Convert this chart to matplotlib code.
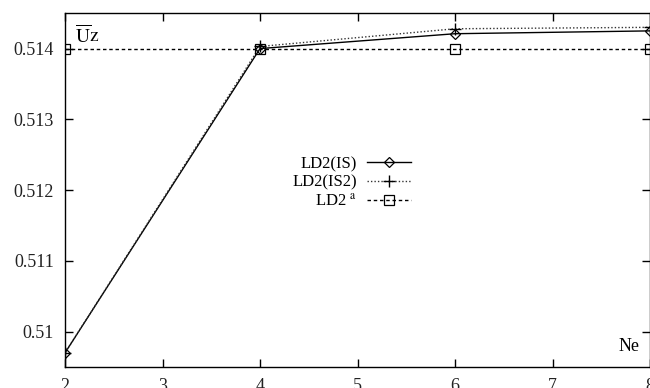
import matplotlib
matplotlib.use('Agg')
import matplotlib.pyplot as plt

plt.rcParams['font.family'] = ['Liberation Serif', 'DejaVu Serif']
plt.rcParams['mathtext.fontset'] = 'stix'

ne = [2, 4, 6, 8]
ld2_is = [0.5097, 0.51400, 0.51421, 0.51425]
ld2_is2 = [0.5097, 0.51403, 0.51428, 0.51430]
ld2_a = [0.514, 0.514, 0.514, 0.514]

fig = plt.figure(figsize=(6.5, 3.88), dpi=100)
ax = fig.add_axes([0.1, 0.054, 0.9, 0.912])

ax.plot(ne, ld2_is, color='black', lw=1.0, marker='D', ms=5, mfc='none', mec='black',
        mew=0.9, label='LD2(IS)')
ax.plot(ne, ld2_is2, color='#333333', lw=1.0, ls=(0, (1, 1.5)), marker='+', ms=8,
        mec='black', mew=1.0, label='LD2(IS2)')
ax.plot(ne, ld2_a, color='black', lw=1.0, ls=(0, (2.5, 2)), marker='s', ms=7, mfc='none',
        mec='black', mew=0.9, label=r'LD2 $^{\rm a}$')

ax.set_xlim(2, 8)
ax.set_ylim(0.5095, 0.5145)
ax.set_xticks([2, 3, 4, 5, 6, 7, 8])
ax.set_yticks([0.510, 0.511, 0.512, 0.513, 0.514])
ax.set_yticklabels(['0.51', '0.511', '0.512', '0.513', '0.514'])
ax.tick_params(direction='in', top=True, right=True, length=6, width=1, labelsize=13,
               pad=8, labelcolor='#222222')
for s in ax.spines.values():
    s.set_linewidth(1.0)

ax.text(0.017, 0.97, r'$\overline{\mathrm{U}}\mathrm{z}$', transform=ax.transAxes,
        fontsize=14, va='top', ha='left')
ax.text(0.982, 0.035, 'Ne', transform=ax.transAxes, fontsize=13, va='bottom', ha='right')

leg = ax.legend(loc='center', bbox_to_anchor=(0.49, 0.52), frameon=False, markerfirst=False,
                fontsize=12, handlelength=2.6, handletextpad=0.6, labelspacing=0.15)
for t in leg.get_texts():
    t.set_ha('right')
    t.set_position((0, 0))

plt.savefig('out.png', dpi=100)
